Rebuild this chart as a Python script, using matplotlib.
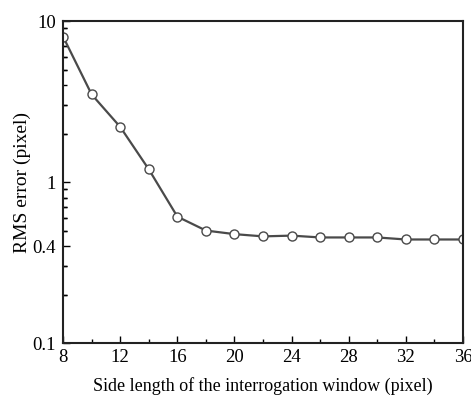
import matplotlib
matplotlib.use("Agg")
import matplotlib.pyplot as plt
from matplotlib.ticker import FixedLocator, FixedFormatter, LogLocator, NullFormatter, MultipleLocator

plt.rcParams['font.family'] = ['Liberation Serif', 'DejaVu Serif']

window = [8, 10, 12, 14, 16, 18, 20, 22, 24, 26, 28, 30, 32, 34, 36]
rms_err = [8.0, 3.5, 2.2, 1.2, 0.61, 0.50, 0.475, 0.46, 0.465, 0.453, 0.453, 0.453, 0.44, 0.44, 0.44]

y_ticks = [0.1, 0.4, 1, 10]
y_labels = ['0.1', '0.4', '1', '10']
x_ticks = [8, 12, 16, 20, 24, 28, 32, 36]

fig = plt.figure(figsize=(4.71, 3.98), dpi=100)
ax = fig.add_axes([0.134, 0.138, 0.849, 0.809])

ax.plot(window, rms_err, color='#4a4a4a', lw=1.6, marker='o', ms=6.5,
        mfc='white', mec='#4a4a4a', mew=1.0)

ax.set_yscale('log')
ax.set_xlim(8, 36)
ax.set_ylim(0.1, 10)
ax.yaxis.set_major_locator(FixedLocator(y_ticks))
ax.yaxis.set_major_formatter(FixedFormatter(y_labels))
ax.yaxis.set_minor_locator(LogLocator(base=10, subs=[0.2, 0.3, 0.5, 0.6, 0.7, 0.8, 0.9, 2, 3, 4, 5, 6, 7, 8, 9]))
ax.yaxis.set_minor_formatter(NullFormatter())
ax.set_xticks(x_ticks)
ax.xaxis.set_minor_locator(MultipleLocator(2))

ax.tick_params(which='both', direction='in', top=False, right=False, labelsize=13.5)
ax.tick_params(axis='y', which='major', pad=5)
ax.tick_params(axis='x', which='major', pad=4)
ax.tick_params(which='major', length=5, width=1)
ax.tick_params(which='minor', length=3, width=1)
for s in ax.spines.values():
    s.set_linewidth(1.5)
    s.set_color('#222222')

ax.set_xlabel('Side length of the interrogation window (pixel)', fontsize=13, labelpad=8)
ax.set_ylabel('RMS error (pixel)', fontsize=14, labelpad=1)

fig.savefig('out.png', dpi=100)
